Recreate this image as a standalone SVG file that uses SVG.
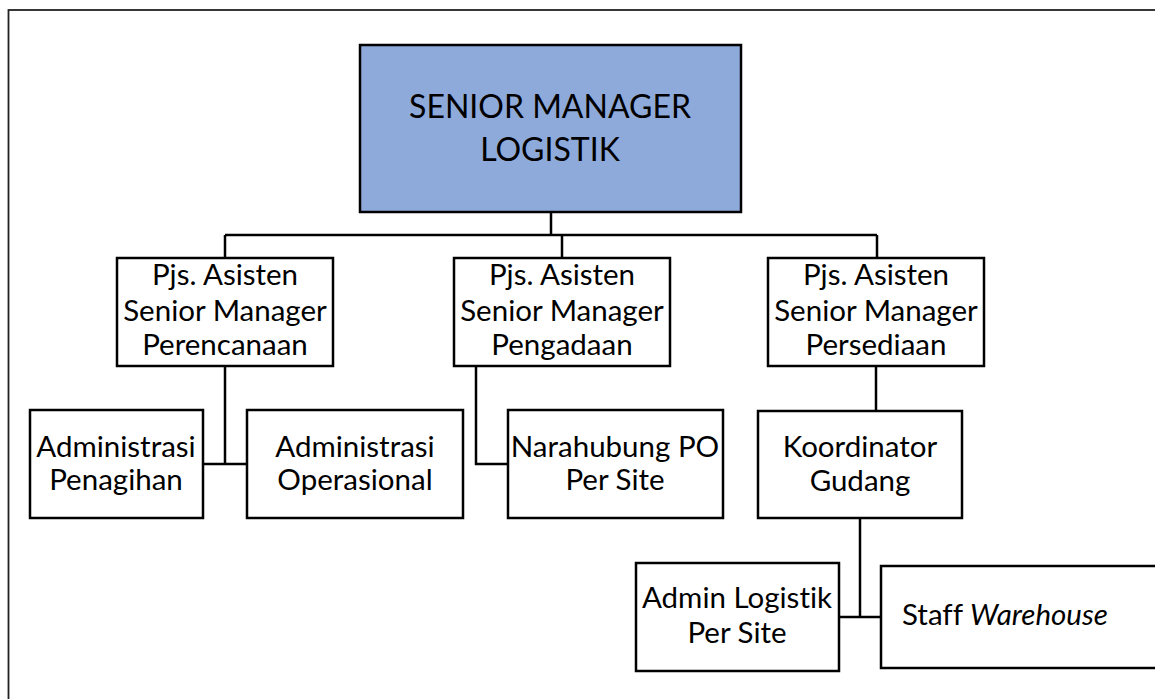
<svg xmlns="http://www.w3.org/2000/svg" width="1155" height="699" viewBox="0 0 1155 699">
<style>
.box{fill:#fff;stroke:#000;stroke-width:2.5}
.top{fill:#8EAADB;stroke:#000;stroke-width:2.5}
.ln{fill:none;stroke:#000;stroke-width:2.5}
.t{font-family:Lato,"Open Sans","Liberation Sans",sans-serif;fill:#000;text-anchor:middle;font-variant-ligatures:none}
.t2{font-size:29.5px}
.t1{font-size:32px}
</style>
<rect x="0" y="0" width="1155" height="699" fill="#fff"/>
<rect x="8.5" y="10" width="1160" height="700" fill="none" stroke="#222" stroke-width="1.8"/>
<g id="connectors">
<path class="ln" d="M551,212V235M225,235H877M225,235V258M562,235V258M877,235V258"/>
<path class="ln" d="M225,366V464M202,464H247"/>
<path class="ln" d="M476,366V464H508"/>
<path class="ln" d="M876,366V411"/>
<path class="ln" d="M860,518V617M839,617H881"/>
</g>
<g id="senior-manager">
<rect class="top" x="360" y="45" width="381" height="167"/>
<text class="t t1" x="550" y="118">SENIOR MANAGER</text>
<text class="t t1" x="550" y="161">LOGISTIK</text>
</g>
<g id="asisten-perencanaan">
<rect class="box" x="117" y="258" width="216" height="108"/>
<text class="t t2" x="225" y="285">Pjs. Asisten</text>
<text class="t t2" x="225" y="321">Senior Manager</text>
<text class="t t2" x="225" y="355">Perencanaan</text>
</g>
<g id="asisten-pengadaan">
<rect class="box" x="454" y="258" width="216" height="108"/>
<text class="t t2" x="562" y="285">Pjs. Asisten</text>
<text class="t t2" x="562" y="321">Senior Manager</text>
<text class="t t2" x="562" y="355">Pengadaan</text>
</g>
<g id="asisten-persediaan">
<rect class="box" x="768" y="258" width="216" height="108"/>
<text class="t t2" x="876" y="285">Pjs. Asisten</text>
<text class="t t2" x="876" y="321">Senior Manager</text>
<text class="t t2" x="876" y="355">Persediaan</text>
</g>
<g id="admin-penagihan">
<rect class="box" x="30" y="410" width="173" height="108"/>
<text class="t t2" x="116" y="457">Administrasi</text>
<text class="t t2" x="116" y="490">Penagihan</text>
</g>
<g id="admin-operasional">
<rect class="box" x="247" y="410" width="216" height="108"/>
<text class="t t2" x="355" y="457">Administrasi</text>
<text class="t t2" x="355" y="490">Operasional</text>
</g>
<g id="narahubung">
<rect class="box" x="508" y="410" width="215" height="108"/>
<text class="t t2" x="615" y="457">Narahubung PO</text>
<text class="t t2" x="615" y="490">Per Site</text>
</g>
<g id="koordinator-gudang">
<rect class="box" x="758" y="411" width="204" height="107"/>
<text class="t t2" x="860" y="457">Koordinator</text>
<text class="t t2" x="860" y="491">Gudang</text>
</g>
<g id="admin-logistik">
<rect class="box" x="636" y="563" width="203" height="108"/>
<text class="t t2" x="737" y="608">Admin Logistik</text>
<text class="t t2" x="737" y="643">Per Site</text>
</g>
<g id="staff-warehouse">
<rect class="box" x="881" y="566" width="290" height="102"/>
<text class="t t2" x="902" y="625" style="text-anchor:start">Staff <tspan font-style="italic">Warehouse</tspan></text>
</g>
</svg>
